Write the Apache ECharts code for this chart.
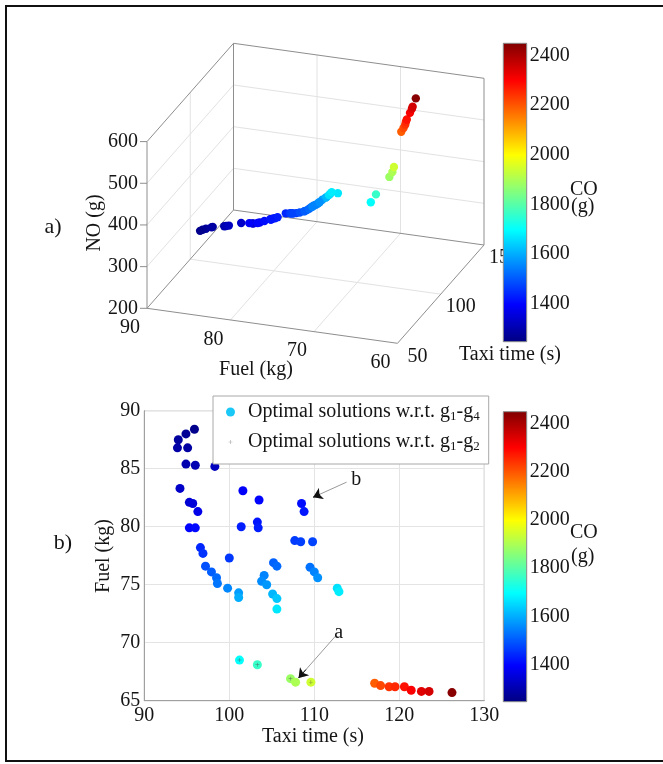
<!DOCTYPE html>
<html>
<head>
<meta charset="utf-8">
<script src="https://cdn.jsdelivr.net/npm/echarts@6/dist/echarts.min.js"></script>
<style>
  html, body { margin: 0; padding: 0; background: #fff; }
  #chart { width: 663px; height: 764px; }
</style>
</head>
<body>
<div id="chart"></div>
<script>
// Optimal taxi solutions: taxi time (s), fuel burn (kg), NO and CO emissions (g)
const TAXI = [93.9, 94.0, 94.9, 95.9, 95.1, 94.9, 96.0, 98.3, 94.2, 95.3, 95.7, 96.3, 95.3, 96.0, 96.6, 96.9,
  100.0, 101.6, 103.5, 101.4, 103.3, 103.4, 108.5, 108.8, 107.7, 108.4, 109.8, 105.2, 105.6, 109.5,
  97.2, 97.9, 98.5, 98.6, 99.8, 101.1, 101.1, 104.1, 103.8, 104.4, 105.1, 105.6, 105.6, 110.0, 110.4,
  112.7, 112.9, 101.2, 103.3, 107.2, 107.8, 109.6, 117.1, 117.8, 118.8, 119.5, 120.6, 121.4, 122.6,
  123.5, 126.2];
const FUEL = [86.8, 87.5, 88.0, 88.4, 86.8, 85.4, 85.3, 85.2, 83.3, 82.1, 82.0, 81.3, 79.9, 79.9, 78.2, 77.7,
  77.3, 83.1, 82.3, 80.0, 80.4, 79.9, 82.0, 81.3, 78.8, 78.7, 78.7, 76.9, 76.6, 76.5,
  76.6, 76.1, 75.6, 75.1, 74.7, 74.3, 73.9, 75.8, 75.3, 75.0, 74.2, 73.8, 72.9, 76.1, 75.6,
  74.7, 74.4, 68.5, 68.1, 66.9, 66.6, 66.6, 66.5, 66.3, 66.2, 66.2, 66.2, 65.9, 65.8,
  65.8, 65.7];
const NO = [300, 294, 288, 282, 298, 304, 302, 298, 319, 319, 318, 321, 335, 333, 351, 352,
  346, 302, 300, 323, 317, 321, 294, 299, 323, 322, 318, 339, 342, 340,
  356, 359, 365, 373, 377, 384, 390, 356, 363, 368, 381, 389, 393, 345, 352,
  367, 374, 394, 409, 445, 456, 464, 531, 539, 545, 550, 553, 568, 575,
  578, 592];
const CO = [1290, 1280, 1270, 1260, 1285, 1300, 1305, 1320, 1330, 1345, 1350, 1370, 1400, 1405, 1440, 1455,
  1460, 1390, 1400, 1430, 1420, 1430, 1410, 1420, 1465, 1470, 1475, 1510, 1520, 1530,
  1490, 1505, 1520, 1535, 1555, 1580, 1600, 1550, 1560, 1575, 1610, 1630, 1670, 1550, 1565,
  1660, 1675, 1700, 1760, 1880, 1900, 1940, 2190, 2215, 2240, 2255, 2280, 2305, 2335,
  2350, 2440];

// solutions that are also optimal with respect to g1-g2 only
const G12_TAXI = [101.2, 103.3, 107.2, 109.6];
const G12_FUEL = [68.5, 68.1, 66.9, 66.6];

// axis ticks
const FUEL_TICKS_3D = [90, 80, 70, 60];
const TAXI_TICKS_3D = [50, 100, 150];
const NO_TICKS_3D = [200, 300, 400, 500, 600];
const CO_TICKS = [1400, 1600, 1800, 2000, 2200, 2400];
const CO_RANGE = [1245, 2450];
const TAXI_RANGE_2D = [90, 130];
const FUEL_RANGE_2D = [65, 90];

// annotation arrows (data coordinates of panel b)
const ARROWS = [
  { label: 'b', from: [113.8, 83.84], to: [109.87, 82.54] },
  { label: 'a', from: [112.47, 70.55], to: [108.15, 66.96] }
];

const S_G4 = 'Optimal solutions w.r.t. g1-g4';
const S_G2 = 'Optimal solutions w.r.t. g1-g2';

const SERIF = '"Liberation Serif", "Times New Roman", serif';
const FS = 20;
const FONT = FS + 'px ' + SERIF;
const INK = '#151515';
const JET = ['#000080', '#0000ff', '#0080ff', '#00ffff', '#80ff80', '#ffff00', '#ff8000', '#ff0000', '#800000'];

// ---- 3D box projection (orthographic view, screen vectors of each full axis span, y up)
const BOX = { fuel: [60, 90], taxi: [50, 150], no: [200, 600] };
const EDGE = { fuel: [250.5, -35], taxi: [86.5, 98.3], no: [0, 166.7] };
function project(f, t, n) {
  const p = (BOX.fuel[1] - f) / (BOX.fuel[1] - BOX.fuel[0]);
  const q = (t - BOX.taxi[0]) / (BOX.taxi[1] - BOX.taxi[0]);
  const r = (n - BOX.no[0]) / (BOX.no[1] - BOX.no[0]);
  return [p * EDGE.fuel[0] + q * EDGE.taxi[0] + r * EDGE.no[0],
          p * EDGE.fuel[1] + q * EDGE.taxi[1] + r * EDGE.no[1]];
}
const VIEW_U = [0, EDGE.fuel[0] + EDGE.taxi[0]];
const VIEW_V = [EDGE.fuel[1], EDGE.taxi[1] + EDGE.no[1]];

// box edges and grid lines of the three back planes
const segs = [];
const F0 = BOX.fuel[1], F1 = BOX.fuel[0], T0 = BOX.taxi[0], T1 = BOX.taxi[1], N0 = BOX.no[0], N1 = BOX.no[1];
function seg(a, b, edge) { segs.push([a[0], a[1], a[2], b[0], b[1], b[2], edge ? 1 : 0]); }
TAXI_TICKS_3D.slice(1, -1).forEach(t => { seg([F0, t, N0], [F0, t, N1]); seg([F0, t, N0], [F1, t, N0]); });
FUEL_TICKS_3D.slice(1, -1).forEach(f => { seg([f, T1, N0], [f, T1, N1]); seg([f, T0, N0], [f, T1, N0]); });
NO_TICKS_3D.slice(1, -1).forEach(n => { seg([F0, T0, n], [F0, T1, n]); seg([F0, T1, n], [F1, T1, n]); });
seg([F0, T0, N0], [F0, T0, N1], true);
seg([F0, T0, N1], [F0, T1, N1], true);
seg([F0, T1, N0], [F0, T1, N1], true);
seg([F0, T0, N0], [F0, T1, N0], true);
seg([F1, T1, N0], [F1, T1, N1], true);
seg([F0, T1, N1], [F1, T1, N1], true);
seg([F0, T1, N0], [F1, T1, N0], true);
seg([F0, T0, N0], [F1, T0, N0], true);
seg([F1, T0, N0], [F1, T1, N0], true);

const tickRows = [];
FUEL_TICKS_3D.forEach(f => tickRows.push([f, T0, N0, f, 0]));
TAXI_TICKS_3D.forEach(t => tickRows.push([F1, t, N0, t, 1]));
NO_TICKS_3D.forEach(n => tickRows.push([F0, T0, n, n, 2]));

const pts3d = TAXI.map((t, i) => [FUEL[i], t, NO[i], CO[i]]);
const pts2d = TAXI.map((t, i) => [t, FUEL[i], NO[i], CO[i]]);
const g12 = G12_TAXI.map((t, i) => [t, G12_FUEL[i]]);

function txt(x, y, text, opts) {
  opts = opts || {};
  return {
    type: 'text', x: x, y: y, rotation: opts.rotation || 0, silent: true,
    style: { text: text, font: opts.font || FONT, fill: INK,
             align: opts.align || 'center', verticalAlign: 'middle',
             textAlign: opts.align || 'center', textVerticalAlign: 'middle' }
  };
}

function colorbarSeries(idx) {
  return {
    type: 'custom', coordinateSystem: 'cartesian2d', xAxisIndex: idx, yAxisIndex: idx,
    data: [[0, CO_RANGE[0]]], silent: true,
    renderItem: function (params, api) {
      const a = api.coord([0, CO_RANGE[1]]);
      const b = api.coord([1, CO_RANGE[0]]);
      const stops = JET.slice().reverse().map((c, k) => ({ offset: k / (JET.length - 1), color: c }));
      return {
        type: 'rect',
        shape: { x: a[0], y: a[1], width: b[0] - a[0], height: b[1] - a[1] },
        style: { fill: new echarts.graphic.LinearGradient(0, 0, 0, 1, stops), stroke: '#8a8a8a', lineWidth: 1 }
      };
    }
  };
}

const cbAxisY = {
  type: 'value', min: CO_RANGE[0], max: CO_RANGE[1], position: 'right',
  axisLine: { show: false }, axisTick: { show: false }, splitLine: { show: false },
  axisLabel: { customValues: CO_TICKS, margin: 3, fontFamily: SERIF, fontSize: FS, color: INK,
               formatter: v => String(v) }
};

const PLUS = 'path://M2.65,0h0.7v6h-0.7z M0,2.65h6v0.7h-6z';
const PLUS_LEGEND = 'path://M0,0h0.01v0.01h-0.01z M13.99,13.99h0.01v0.01h-0.01z M6.5,4h1v6h-1z M4,6.5h6v1h-6z';

const arrowLines = [];
ARROWS.forEach(a => {
  arrowLines.push([{ name: a.label, coord: a.from, lineStyle: { color: '#9a9a9a' } }, { coord: a.to }]);
  const k = 0.2;
  const mid = [a.to[0] + (a.from[0] - a.to[0]) * k, a.to[1] + (a.from[1] - a.to[1]) * k];
  arrowLines.push([{ name: '', coord: mid, lineStyle: { color: '#111' }, label: { show: false } }, { coord: a.to }]);
});

const chart = echarts.init(document.getElementById('chart'), null, { renderer: 'canvas' });
chart.setOption({
  animation: false,
  backgroundColor: '#fff',
  textStyle: { fontFamily: SERIF },
  grid: [
    { left: 147, top: 43.3, width: VIEW_U[1] - VIEW_U[0], height: VIEW_V[1] - VIEW_V[0] },
    { left: 144.3, top: 410.7, width: 340, height: 290, show: true, borderColor: '#a0a0a0', borderWidth: 1 },
    { left: 503.3, top: 43.3, width: 23.4, height: 298.4 },
    { left: 503.3, top: 411.7, width: 23.4, height: 290 }
  ],
  xAxis: [
    { gridIndex: 0, type: 'value', min: VIEW_U[0], max: VIEW_U[1], show: false },
    { gridIndex: 1, type: 'value', min: TAXI_RANGE_2D[0], max: TAXI_RANGE_2D[1], interval: 10,
      axisLine: { show: true, lineStyle: { color: '#a0a0a0' } }, axisTick: { show: false },
      splitLine: { show: true, lineStyle: { color: '#e4e4e4' } },
      axisLabel: { margin: 5, fontFamily: SERIF, fontSize: FS, color: INK } },
    { gridIndex: 2, type: 'value', min: 0, max: 1, show: false },
    { gridIndex: 3, type: 'value', min: 0, max: 1, show: false }
  ],
  yAxis: [
    { gridIndex: 0, type: 'value', min: VIEW_V[0], max: VIEW_V[1], show: false },
    { gridIndex: 1, type: 'value', min: FUEL_RANGE_2D[0], max: FUEL_RANGE_2D[1], interval: 5,
      axisLine: { show: true, lineStyle: { color: '#a0a0a0' } }, axisTick: { show: false },
      splitLine: { show: true, lineStyle: { color: '#e4e4e4' } },
      axisLabel: { margin: 4, fontFamily: SERIF, fontSize: FS, color: INK } },
    Object.assign({ gridIndex: 2 }, cbAxisY),
    Object.assign({ gridIndex: 3 }, cbAxisY)
  ],
  visualMap: {
    type: 'continuous', show: false, min: CO_RANGE[0], max: CO_RANGE[1], dimension: 3,
    seriesIndex: [1, 5], inRange: { color: JET }
  },
  legend: {
    left: 213, top: 396, orient: 'vertical', selectedMode: false,
    itemWidth: 25, itemHeight: 9, itemGap: 9,
    padding: [6, 9, 11, 13],
    backgroundColor: '#fff', borderColor: '#a8a8a8', borderWidth: 1,
    textStyle: {
      fontFamily: SERIF, fontSize: FS, color: INK,
      rich: { s: { fontFamily: SERIF, fontSize: 13, color: INK, verticalAlign: 'bottom', padding: [9, 0, 0, 0] } }
    },
    formatter: name => name.replace(/g(\d)/g, 'g{s|$1}'),
    data: [
      { name: S_G4, icon: 'circle', itemStyle: { color: '#19c8f6' } },
      { name: S_G2, icon: PLUS_LEGEND, itemStyle: { color: '#9a9a9a' } }
    ]
  },
  series: [
    { // 0: box and grid of the 3D view
      type: 'custom', coordinateSystem: 'cartesian2d', xAxisIndex: 0, yAxisIndex: 0, silent: true,
      data: segs,
      renderItem: function (params, api) {
        const a = api.coord(project(api.value(0), api.value(1), api.value(2)));
        const b = api.coord(project(api.value(3), api.value(4), api.value(5)));
        const edge = api.value(6) === 1;
        return { type: 'line', shape: { x1: a[0], y1: a[1], x2: b[0], y2: b[1] },
                 style: { stroke: edge ? '#8e8e8e' : '#e2e2e2', lineWidth: 1 } };
      }
    },
    { // 1: 3D points
      type: 'custom', coordinateSystem: 'cartesian2d', xAxisIndex: 0, yAxisIndex: 0, silent: true,
      data: pts3d,
      renderItem: function (params, api) {
        const c = api.coord(project(api.value(0), api.value(1), api.value(2)));
        return { type: 'circle', shape: { cx: c[0], cy: c[1], r: 4.2 }, style: { fill: api.visual('color') } };
      }
    },
    { // 2: tick marks and labels of the 3D view
      type: 'custom', coordinateSystem: 'cartesian2d', xAxisIndex: 0, yAxisIndex: 0, silent: true,
      data: tickRows,
      renderItem: function (params, api) {
        const c = api.coord(project(api.value(0), api.value(1), api.value(2)));
        const v = String(api.value(3));
        const kind = api.value(4);
        const st = { text: v, font: FONT, fill: INK, verticalAlign: 'middle', textVerticalAlign: 'middle' };
        if (kind === 0) {
          return { type: 'text', x: c[0] - 17, y: c[1] + 19.5, style: Object.assign(st, { align: 'center', textAlign: 'center' }) };
        }
        if (kind === 1) {
          return { type: 'text', x: c[0] + 20, y: c[1] + 13, style: Object.assign(st, { align: 'center', textAlign: 'center' }) };
        }
        return {
          type: 'group', children: [
            { type: 'line', shape: { x1: c[0] - 7, y1: c[1], x2: c[0], y2: c[1] }, style: { stroke: '#8e8e8e', lineWidth: 1 } },
            { type: 'text', x: c[0] - 9, y: c[1], style: Object.assign(st, { align: 'right', textAlign: 'right' }) }
          ]
        };
      }
    },
    colorbarSeries(2),
    colorbarSeries(3),
    { // 5: panel b scatter
      name: S_G4, type: 'scatter', xAxisIndex: 1, yAxisIndex: 1,
      symbolSize: 9, itemStyle: { opacity: 1 },
      data: pts2d,
      markLine: {
        silent: true, animation: false,
        symbol: ['none', 'arrow'], symbolSize: 9,
        lineStyle: { width: 1, type: 'solid' },
        label: { show: true, position: 'start', distance: 5, formatter: p => p.name,
                 fontFamily: SERIF, fontSize: FS, color: INK },
        data: arrowLines
      }
    },
    { // 6: g1-g2 optimal solutions
      name: S_G2, type: 'scatter', xAxisIndex: 1, yAxisIndex: 1,
      symbol: PLUS, symbolSize: 4, itemStyle: { color: '#505050', opacity: 0.8 },
      data: g12
    }
  ],
  graphic: [
    { type: 'rect', shape: { x: 6, y: 6, width: 720, height: 755 }, style: { fill: 'none', stroke: '#111', lineWidth: 2 }, z: 50, silent: true },
    txt(53, 227, 'a)', { font: '22px ' + SERIF }),
    txt(63, 543, 'b)', { font: '22px ' + SERIF }),
    txt(256, 370, 'Fuel (kg)'),
    txt(510, 355, 'Taxi time (s)'),
    txt(95, 223, 'NO (g)', { rotation: Math.PI / 2 }),
    txt(313, 737, 'Taxi time (s)'),
    txt(104, 556, 'Fuel (kg)', { rotation: Math.PI / 2 }),
    txt(570, 190, 'CO', { align: 'left' }),
    txt(571, 207, '(g)', { align: 'left' }),
    txt(570, 533, 'CO', { align: 'left' }),
    txt(571, 557, '(g)', { align: 'left' })
  ]
});
</script>
</body>
</html>
